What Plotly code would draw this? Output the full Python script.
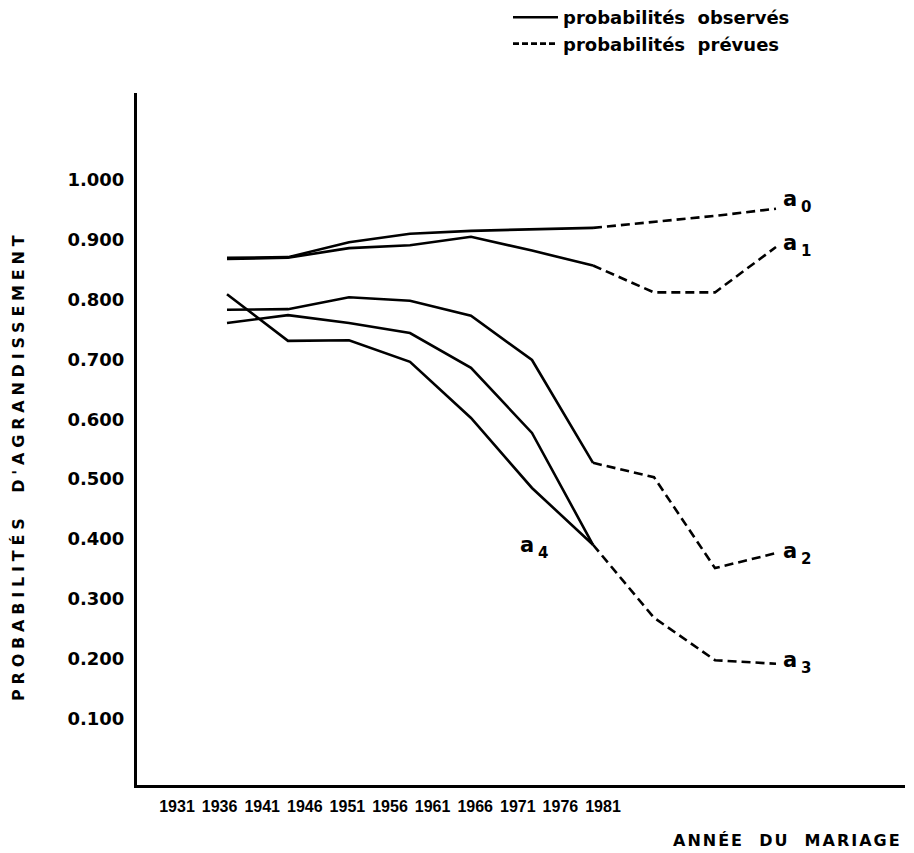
import plotly.graph_objects as go

# ---- data ----
cohorts = [1931, 1936, 1941, 1946, 1951, 1956, 1961, 1966, 1971, 1976]
tick_years = [1931, 1936, 1941, 1946, 1951, 1956, 1961, 1966, 1971, 1976, 1981]

a0_obs = [0.870, 0.871, 0.896, 0.910, 0.915, 0.918, 0.920]
a0_prev = [0.920, 0.930, 0.940, 0.952]
a1_obs = [0.868, 0.870, 0.886, 0.891, 0.905, 0.882, 0.857]
a1_prev = [0.857, 0.812, 0.812, 0.888]
a2_obs = [0.783, 0.784, 0.804, 0.798, 0.773, 0.699, 0.527]
a2_prev = [0.527, 0.503, 0.351, 0.376]
a3_obs = [0.761, 0.774, 0.761, 0.744, 0.686, 0.577, 0.390]
a3_prev = [0.390, 0.268, 0.197, 0.191]
a4_obs = [0.809, 0.731, 0.732, 0.696, 0.602, 0.485, 0.390]

y_ticks = [0.1, 0.2, 0.3, 0.4, 0.5, 0.6, 0.7, 0.8, 0.9, 1.0]
series_subscripts = ["0", "1", "2", "3", "4"]

series = [
    ("a0", a0_obs, a0_prev),
    ("a1", a1_obs, a1_prev),
    ("a2", a2_obs, a2_prev),
    ("a3", a3_obs, a3_prev),
    ("a4", a4_obs, None),
]

FONT = "DejaVu Sans, Liberation Sans, sans-serif"
FONT2 = "Liberation Sans, Arial, sans-serif"
W, H = 914, 853
L, R, T, B = 137, 905, 93, 785   # plot area in pixels

fig = go.Figure()
n_obs = len(a0_obs)
for name, obs, prev in series:
    fig.add_trace(go.Scatter(
        x=cohorts[:n_obs], y=obs, mode="lines", name=name, showlegend=False,
        line=dict(color="black", width=2.6), hoverinfo="x+y+name"))
    if prev is not None:
        fig.add_trace(go.Scatter(
            x=cohorts[n_obs - 1:], y=prev, mode="lines", name=name, showlegend=False,
            line=dict(color="black", width=2.6, dash="9px,5px"), hoverinfo="x+y+name"))

# legend entries
fig.add_trace(go.Scatter(x=[None], y=[None], mode="lines", name="probabilités  observés",
                         line=dict(color="black", width=2.6)))
fig.add_trace(go.Scatter(x=[None], y=[None], mode="lines", name="probabilités  prévues",
                         line=dict(color="black", width=2.6, dash="6px,3px")))

# invisible trace carrying the year tick labels axis
fig.add_trace(go.Scatter(x=tick_years, y=[None] * len(tick_years), xaxis="x2",
                         showlegend=False, hoverinfo="skip", mode="lines"))

def px2x(px):
    return (px - L) / (R - L)

def px2y(py):
    return (B - py) / (B - T)

# data x axis: cohort 1931 at px 227, 12.2 px per year
xs = 12.2
x_range = [1931 - (227 - L) / xs, 1931 + (R - 227) / xs]
# label x axis: 1931 at px 177, 1981 at px 603
xs2 = (603 - 177) / 50
x2_range = [1931 - (177 - L) / xs2, 1931 + (R - 177) / xs2]
# y axis: 1.000 at py 180, 598 px per unit
ys = 598
y_range = [1 - (B - 180) / ys, 1 + (180 - T) / ys]

fig.update_layout(
    width=W, height=H,
    margin=dict(l=L, r=W - R, t=T, b=H - B, autoexpand=False),
    paper_bgcolor="white", plot_bgcolor="white",
    font=dict(family=FONT, color="black", size=15, weight="bold"),
    xaxis=dict(range=x_range, showgrid=False, zeroline=False, showticklabels=False,
               ticks="", showline=True, linecolor="black", linewidth=3),
    xaxis2=dict(range=x2_range, overlaying="x", side="bottom", anchor="y",
                showgrid=False, zeroline=False, showline=False, ticks="",
                tickvals=tick_years, ticktext=[str(t) for t in tick_years],
                tickangle=0,
                tickfont=dict(size=16, family=FONT2, weight="bold"),
                ticklabelstandoff=10),
    yaxis=dict(range=y_range, showgrid=False, zeroline=False, ticks="",
               showline=True, linecolor="black", linewidth=3,
               tickvals=y_ticks,
               ticktext=["%.3f" % v for v in y_ticks],
               tickfont=dict(size=18, family=FONT, weight="bold"),
               ticklabelstandoff=6),
    showlegend=True,
    legend=dict(x=px2x(508), y=px2y(-1), xanchor="left", yanchor="top",
                bgcolor="rgba(0,0,0,0)", font=dict(size=18, family=FONT, weight="bold"),
                itemwidth=45, tracegroupgap=0),
)

# y axis title (rotated)
fig.add_annotation(
    text='<span style="letter-spacing:4.8px">PROBABILITÉS  D\'AGRANDISSEMENT</span>',
    xref="paper", yref="paper", x=px2x(18), y=px2y(466), textangle=-90,
    xanchor="center", yanchor="middle",
    showarrow=False, font=dict(size=16, family=FONT, weight="bold"))

# x axis title
fig.add_annotation(
    text='<span style="letter-spacing:2px">ANNÉE  DU  MARIAGE</span>',
    xref="paper", yref="paper", x=px2x(904), y=px2y(840), xanchor="right", yanchor="middle",
    showarrow=False, font=dict(size=16, family=FONT, weight="bold"))

# series labels: "a" plus a smaller, lowered index
label_pos = [(790, 199), (790, 243), (790, 551), (790, 660), (527, 545)]
for sub, (px, py) in zip(series_subscripts, label_pos):
    fig.add_annotation(text="a", xref="paper", yref="paper",
                       x=px2x(px), y=px2y(py), xanchor="center", yanchor="middle",
                       showarrow=False, font=dict(size=21, family=FONT, weight="bold"))
    fig.add_annotation(text=sub, xref="paper", yref="paper",
                       x=px2x(px + 16), y=px2y(py + 8), xanchor="center", yanchor="middle",
                       showarrow=False, font=dict(size=15, family=FONT, weight="bold"))

fig.write_html("out.html", config={"displayModeBar": False},
               post_script="document.body.style.margin='0';document.body.style.padding='0';"
                           "document.body.style.overflow='hidden';")
